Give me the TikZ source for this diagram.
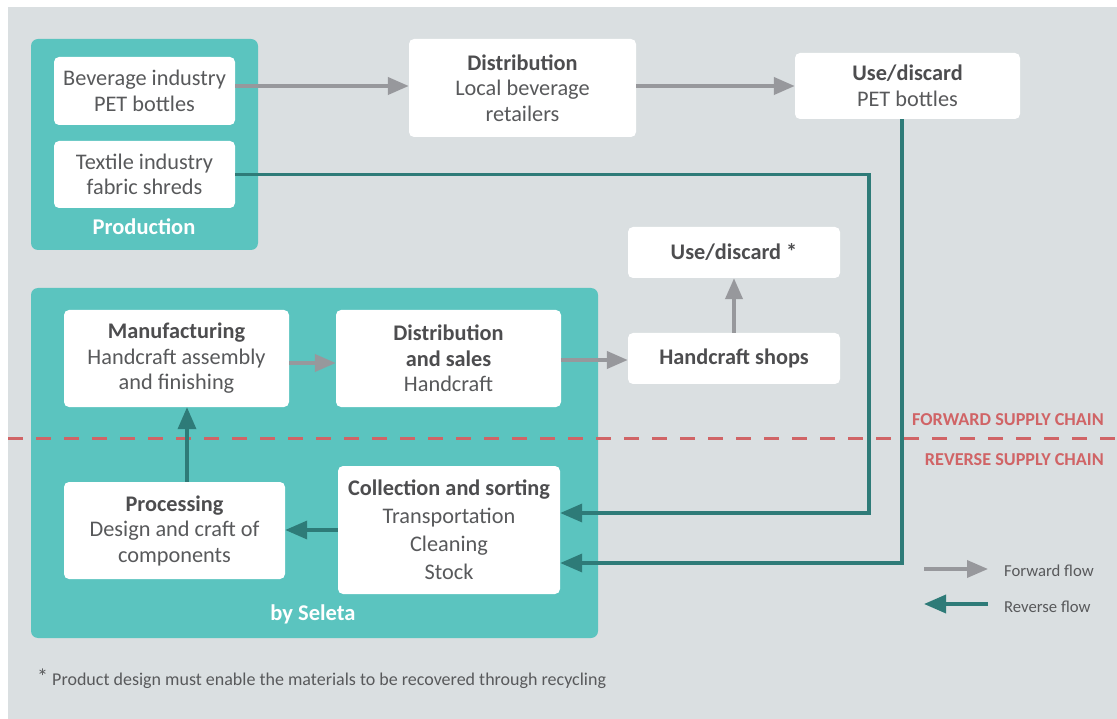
\documentclass[tikz,border=0pt]{standalone}
\usepackage{fontspec}
\setmainfont{Carlito}
\usetikzlibrary{arrows.meta}
\definecolor{bggray}{HTML}{DADFE1}
\definecolor{tealbox}{HTML}{5BC4BF}
\definecolor{tealdark}{HTML}{2E7B78}
\definecolor{arrgray}{HTML}{97989C}
\definecolor{redline}{HTML}{D06466}
\definecolor{txt}{HTML}{58595B}
\definecolor{txtb}{HTML}{4D4D4F}
\tikzset{
  box/.style={fill=white, rounded corners=5pt, inner sep=0pt, align=center, text=txt,
    font=\fontsize{22.3}{25.5}\selectfont},
  container/.style={fill=tealbox, rounded corners=7pt, inner sep=0pt},
  conttitle/.style={text=white, font=\fontsize{22.5}{25}\selectfont\bfseries},
  fwd/.style={draw=arrgray, line width=4pt, -{Triangle[length=21pt, width=17pt]}},
  rev/.style={draw=tealdark, line width=3.5pt, -{Triangle[length=22pt, width=18pt]}},
  chainlbl/.style={text=redline, font=\fontsize{18.2}{20}\selectfont\bfseries, anchor=east, inner sep=0pt},
  legend/.style={text=txt, font=\fontsize{16.7}{19}\selectfont, anchor=west, inner sep=0pt}
}
\newcommand{\ttl}[1]{{\bfseries\color{txtb}#1}}
\begin{document}
\begin{tikzpicture}[x=1pt,y=-1pt]
\useasboundingbox (0,0) rectangle (1117,719);
\fill[white] (0,0) rectangle (1117,719);
\fill[bggray] (8,7) rectangle (1117,719);

% containers
\node[container, minimum width=227pt, minimum height=211pt] (prod) at (144.5,144.5) {};
\node[conttitle] (prodlbl) at (144,227) {Production};
\node[container, minimum width=567pt, minimum height=350pt] (seleta) at (314.5,463) {};
\node[conttitle] (selbl) at (313,614) {by Seleta};

% boxes
\node[box, minimum width=181pt, minimum height=68pt] (bev) at (144.5,91) {Beverage industry\\PET bottles};
\node[box, minimum width=181pt, minimum height=67pt] (tex) at (144.5,174.5) {Textile industry\\fabric shreds};
\node[box, minimum width=227pt, minimum height=98pt] (dist) at (522.5,88) {\ttl{Distribution}\\Local beverage\\retailers};
\node[box, minimum width=225pt, minimum height=66pt] (use1) at (907.5,86) {\ttl{Use/discard}\\PET bottles};
\node[box, minimum width=225pt, minimum height=97pt] (manu) at (176.5,358.5) {\ttl{Manufacturing}\\Handcraft assembly\\and finishing};
\node[box, minimum width=225pt, minimum height=97pt] (dsales) at (448.5,358.5) {\ttl{Distribution}\\\ttl{and sales}\\Handcraft};
\node[box, minimum width=221pt, minimum height=97pt] (proc) at (174.5,530.5) {\ttl{Processing}\\Design and craft of\\components};
\node[box, minimum width=222pt, minimum height=128pt, font=\fontsize{22.3}{28}\selectfont] (coll) at (449,530) {\ttl{Collection and sorting}\\Transportation\\Cleaning\\Stock};
\node[box, minimum width=212pt, minimum height=51pt] (shops) at (734,358.5) {\ttl{Handcraft shops}};
\node[box, minimum width=212pt, minimum height=51pt] (use2) at (734,252.5) {\ttl{Use/discard *}};

% dashed line
\coordinate (dl) at (8,438);
\coordinate (dr) at (1117,438);
\draw[redline, line width=3pt, dash pattern=on 15pt off 13pt] (dl) -- (dr);
\node[chainlbl] (fsc) at (1104,420) {FORWARD SUPPLY CHAIN};
\node[chainlbl] (rsc) at (1104,460) {REVERSE SUPPLY CHAIN};

% forward arrows
\draw[fwd] (bev.east |- 0,86) -- (dist.west |- 0,86);
\draw[fwd] (dist.east |- 0,86) -- (use1.west |- 0,86);
\draw[fwd] (manu.east |- 0,363) -- (dsales.west |- 0,363);
\draw[fwd] (dsales.east |- 0,360) -- (shops.west |- 0,360);
\draw[fwd] (shops.north) -- (use2.south);

% reverse arrows
\coordinate (tx) at (869,175);
\coordinate (ux) at (902,0);
\coordinate (in1) at (560,513);
\coordinate (in2) at (560,563);
\draw[rev] (tex.east) -| (tx |- in1) -- (coll.east |- in1);
\draw[rev] (use1.south -| ux) |- (coll.east |- in2);
\draw[rev] (coll.west |- 0,530) -- (proc.east |- 0,530);
\draw[rev] (proc.north -| 187,0) -- (manu.south -| 187,0);

% legend
\coordinate (lf1) at (924,569);
\coordinate (lf2) at (988,569);
\coordinate (lr1) at (988,604);
\coordinate (lr2) at (924,604);
\draw[fwd, line width=3.5pt] (lf1) -- (lf2);
\draw[rev, line width=3.5pt] (lr1) -- (lr2);
\node[legend] (ffl) at (1004,571) {Forward flow};
\node[legend] (rfl) at (1004,607) {Reverse flow};

% footnote
\node[text=txt, font=\fontsize{18}{20}\selectfont, anchor=west, inner sep=0pt] (foot) at (37,679) {\raisebox{1pt}{\fontsize{22}{22}\selectfont *} Product design must enable the materials to be recovered through recycling};
\end{tikzpicture}
\end{document}
